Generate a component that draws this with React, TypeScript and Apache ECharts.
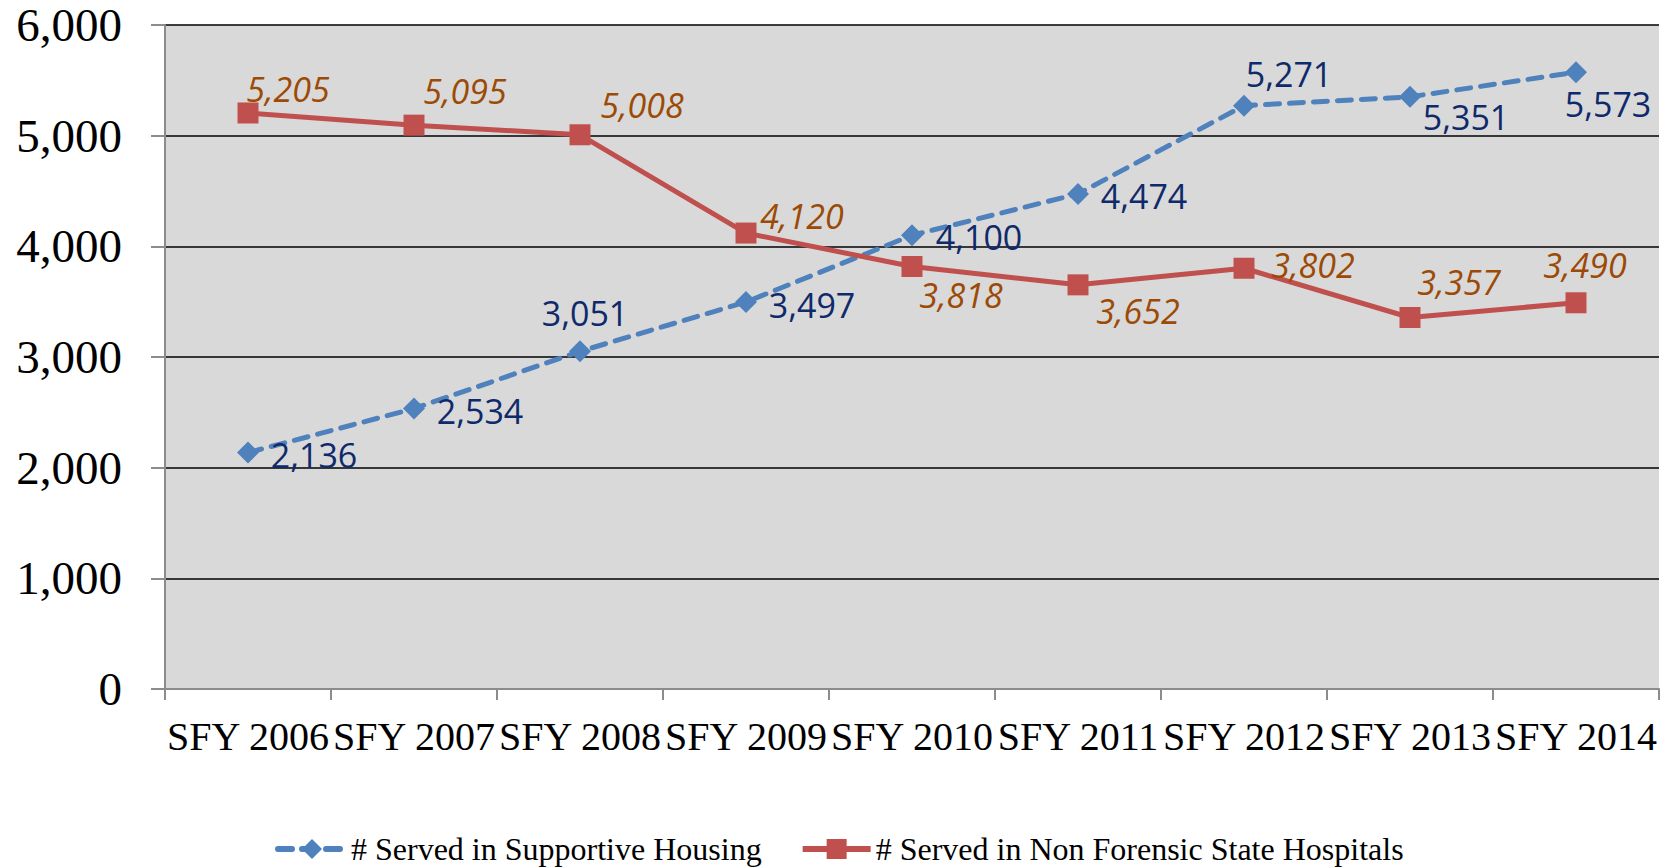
import React, { useEffect, useRef } from "react";
import * as echarts from "echarts";

const categories = [
  "SFY 2006", "SFY 2007", "SFY 2008", "SFY 2009", "SFY 2010",
  "SFY 2011", "SFY 2012", "SFY 2013", "SFY 2014",
];
const supportiveHousing = [2136, 2534, 3051, 3497, 4100, 4474, 5271, 5351, 5573];
const stateHospitals = [5205, 5095, 5008, 4120, 3818, 3652, 3802, 3357, 3490];
const seriesNames = [
  "# Served in Supportive Housing",
  "# Served in Non Forensic State Hospitals",
];

// label placement offsets (px from marker centre), styling only
const blueLabelOffsets = [
  [66, 2], [66, 2], [5, -38], [66, 3], [67, 2], [66, 2], [45, -32], [56, 20], [32, 32],
];
const redLabelOffsets = [
  [40, -24], [51, -34], [62, -30], [56, -17], [49, 29], [60, 26], [69, -3], [49, -35], [9, -38],
];

const fmt = (v: number) => v.toLocaleString("en-US");

export default function App() {
  const ref = useRef<HTMLDivElement>(null);
  useEffect(() => {
    if (!ref.current) return;
    const chart = echarts.init(ref.current, undefined, { renderer: "svg" });
    const serif = "'Liberation Serif', 'Times New Roman', serif";
    const labelFont = "'Open Sans', 'Noto Sans', sans-serif";
    chart.setOption({
      animation: false,
      backgroundColor: "#ffffff",
      grid: {
        left: 165,
        right: 12,
        top: 25,
        bottom: 179,
        show: true,
        backgroundColor: "#D9D9D9",
        borderWidth: 0,
      },
      legend: {
        data: seriesNames,
        left: 270,
        top: 828,
        itemWidth: 68,
        itemHeight: 25,
        itemGap: 38,
        lineStyle: { width: 6 },
        textStyle: { fontFamily: serif, fontSize: 32, color: "#000" },
      },
      xAxis: {
        type: "category",
        data: categories,
        boundaryGap: true,
        axisLine: { show: true, lineStyle: { color: "#8C8C8C", width: 2 } },
        axisTick: { show: true, length: 11, lineStyle: { color: "#8C8C8C", width: 2 } },
        axisLabel: {
          interval: 0,
          margin: 27,
          fontFamily: serif,
          fontSize: 40,
          color: "#000",
        },
        splitLine: { show: false },
      },
      yAxis: {
        type: "value",
        min: 0,
        max: 6000,
        interval: 1000,
        axisLine: { show: true, lineStyle: { color: "#8C8C8C", width: 2 } },
        axisTick: { show: true, length: 14, lineStyle: { color: "#8C8C8C", width: 2 } },
        axisLabel: {
          margin: 43,
          fontFamily: serif,
          fontSize: 47,
          color: "#000",
          formatter: (v: number) => fmt(v),
        },
        splitLine: { show: true, lineStyle: { color: "#000", width: 1.5 } },
      },
      series: [
        {
          name: seriesNames[0],
          type: "line",
          data: supportiveHousing.map((v, i) => ({
            value: v,
            label: { offset: blueLabelOffsets[i] },
          })),
          symbol: "diamond",
          symbolSize: [22, 22],
          itemStyle: { color: "#4F81BD" },
          lineStyle: { color: "#4F81BD", width: 5, type: [14, 10], cap: "round" },
          label: {
            show: true,
            position: "inside",
            align: "center",
            verticalAlign: "middle",
            fontFamily: labelFont,
            fontSize: 34,
            color: "#0F2A6B",
            formatter: (p: any) => fmt(p.value),
          },
          z: 3,
        },
        {
          name: seriesNames[1],
          type: "line",
          data: stateHospitals.map((v, i) => ({
            value: v,
            label: { offset: redLabelOffsets[i] },
          })),
          symbol: "rect",
          symbolSize: [21, 21],
          itemStyle: { color: "#C0504D" },
          lineStyle: { color: "#C0504D", width: 5, type: "solid" },
          label: {
            show: true,
            position: "inside",
            align: "center",
            verticalAlign: "middle",
            fontFamily: labelFont,
            fontStyle: "italic",
            fontSize: 34,
            color: "#9C4A06",
            formatter: (p: any) => fmt(p.value),
          },
          z: 4,
        },
      ],
    });
    return () => chart.dispose();
  }, []);
  return (
    <div
      ref={ref}
      style={{ position: "absolute", left: 0, top: 0, width: 1671, height: 868 }}
    />
  );
}
